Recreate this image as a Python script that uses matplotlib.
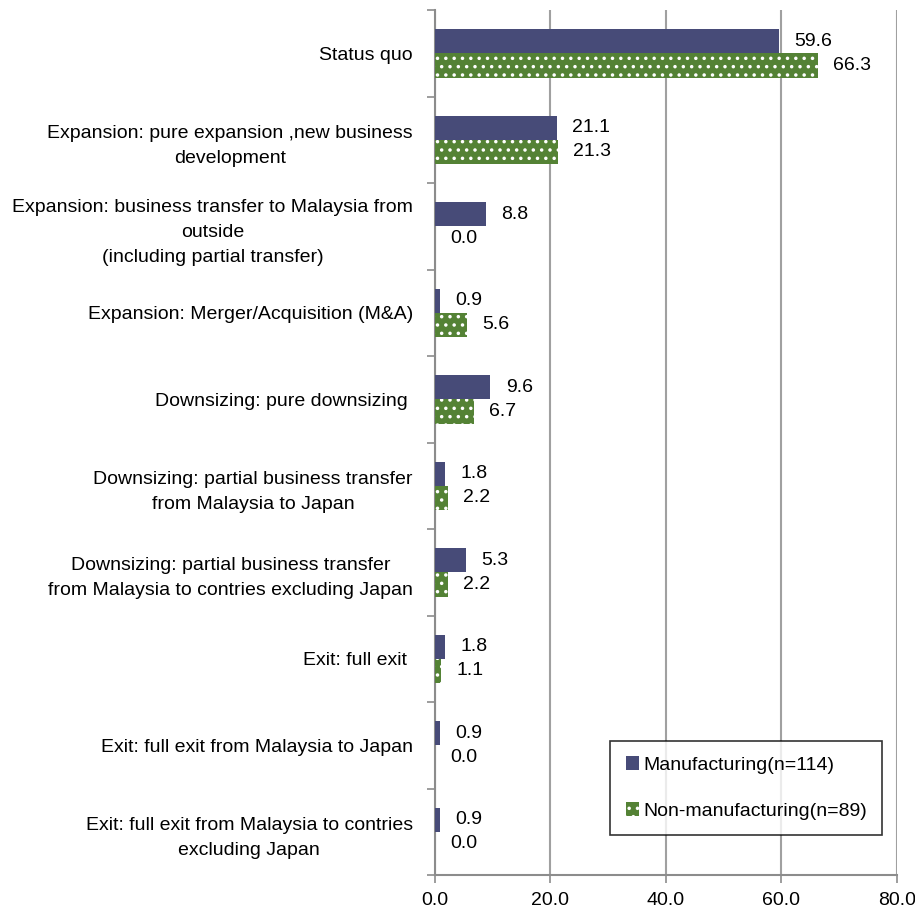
import matplotlib
matplotlib.use("Agg")
import matplotlib.pyplot as plt
import numpy as np

categories = [
    "Status quo",
    "Expansion: pure expansion ,new business\ndevelopment",
    "Expansion: business transfer to Malaysia from\noutside\n(including partial transfer)",
    "Expansion: Merger/Acquisition (M&A)",
    "Downsizing: pure downsizing ",
    "Downsizing: partial business transfer\nfrom Malaysia to Japan",
    "Downsizing: partial business transfer\nfrom Malaysia to contries excluding Japan",
    "Exit: full exit ",
    "Exit: full exit from Malaysia to Japan",
    "Exit: full exit from Malaysia to contries\nexcluding Japan",
]
manufacturing = [59.6, 21.1, 8.8, 0.9, 9.6, 1.8, 5.3, 1.8, 0.9, 0.9]
non_manufacturing = [66.3, 21.3, 0.0, 5.6, 6.7, 2.2, 2.2, 1.1, 0.0, 0.0]
series_labels = ["Manufacturing(n=114)", "Non-manufacturing(n=89)"]

plt.rcParams['font.family'] = ['Liberation Sans', 'DejaVu Sans']
plt.rcParams['hatch.linewidth'] = 1.3
fs = 14

navy = "#474B78"
green = "#548235"
gray = "#8C8C8C"

fig = plt.figure(figsize=(9.15, 9.15), dpi=100)
ax = fig.add_axes([0.4754, 0.0437, 0.5049, 0.9453])

y = np.arange(len(categories))
h = 0.28
b1 = ax.barh(y - h / 2, manufacturing, height=h, color=navy, label=series_labels[0], zorder=3)
b2 = ax.barh(y + h / 2, non_manufacturing, height=h, color=green, edgecolor="white",
             linewidth=0, hatch="..", label=series_labels[1], zorder=3)

# value labels to the right of each bar
for bars, vals in ((b1, manufacturing), (b2, non_manufacturing)):
    for bar, v in zip(bars, vals):
        ax.annotate(f"{v:.1f}", (v, bar.get_y() + bar.get_height() / 2),
                    xytext=(11, 0), textcoords="offset points",
                    ha="left", va="center", fontsize=fs)

ax.set_xlim(0, 80)
ax.set_ylim(len(categories) - 0.5, -0.5)
ax.set_xticks(np.arange(0, 81, 20))
ax.set_xticklabels([f"{t:.1f}" for t in np.arange(0, 81, 20)], fontsize=fs)
ax.set_yticks(y)
ax.set_yticklabels(categories, fontsize=fs, linespacing=1.6)
for lbl in ax.get_yticklabels():
    lbl.set_multialignment("center")
ax.set_yticks(np.arange(-0.5, len(categories), 1), minor=True)
ax.tick_params(axis="y", which="major", length=0, pad=16)
ax.tick_params(axis="y", which="minor", length=6, color=gray, width=1.2)
ax.tick_params(axis="x", length=6, color=gray, width=1.2, pad=6)

ax.xaxis.grid(True, color="#A0A0A0", linewidth=1.5, zorder=0)
ax.set_axisbelow(True)
for s in ("top", "right"):
    ax.spines[s].set_visible(False)
for s in ("left", "bottom"):
    ax.spines[s].set_color(gray)
    ax.spines[s].set_linewidth(1.5)

leg = ax.legend(loc="lower left", bbox_to_anchor=(0.379, 0.046), borderaxespad=0,
                fontsize=fs, frameon=True, fancybox=False, edgecolor="black",
                handlelength=0.7, handleheight=0.7, handletextpad=0.2,
                labelspacing=1.45, borderpad=0.8)
leg.get_frame().set_linewidth(1.2)

fig.savefig("out.png", dpi=100)
